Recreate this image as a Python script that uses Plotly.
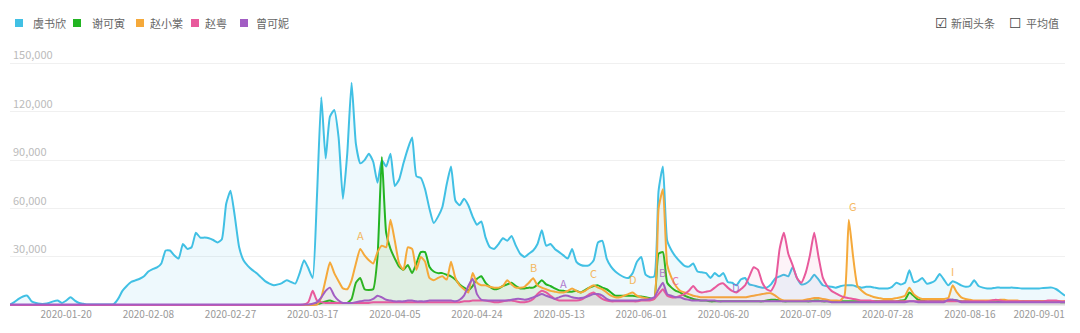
import pandas as pd
import plotly.graph_objects as go

# ---------------- data (values in thousands, one point per day) ----------------
start_date = "2020-01-07"
n_days = 245
dates = pd.date_range(start_date, periods=n_days, freq="D")

series_names = ["虞书欣", "谢可寅", "赵小棠", "赵粤", "曾可妮"]

yu_shuxin = [
    0.5, 2, 4, 5.5, 6, 2.5, 1.5, 1, 1, 1.5,
    2.5, 3, 1.5, 3, 5, 3, 1.5, 1, 0.5, 0.5,
    0.5, 0.5, 0.5, 0.5, 0.8, 4, 9, 12, 14.5, 15.5,
    16.5, 18, 21, 22.5, 23.5, 26, 34, 34, 31, 29,
    38, 35, 36, 45, 42, 42, 41.6, 40.5, 39, 41,
    63, 71, 55, 36, 28, 24.5, 22, 20, 17.5, 15,
    13.5, 12.5, 13, 14, 15.5, 14.5, 13.5, 20, 28, 23,
    17, 68, 129, 91, 117, 121, 104, 66, 94, 138,
    100, 88, 90, 94, 89, 76, 90, 86, 94, 74,
    78, 88, 97, 104, 80, 79, 72, 60, 51, 55,
    61, 75, 86, 65, 62, 66, 62, 55, 50, 52,
    42, 36, 35, 38, 41.6, 40, 43, 37, 32, 30,
    32, 34, 38, 46.5, 37, 38, 35, 33, 31, 29,
    35, 27, 25, 24.5, 25, 28, 39, 40, 29, 24,
    21, 19, 17.5, 17, 20, 27, 30, 19, 17.5, 18,
    71, 86, 40, 34, 30, 27, 24.5, 24, 26, 21,
    20.5, 20, 17, 20, 18, 20, 14.5, 14, 12.4, 16,
    17, 13, 12.4, 11.5, 11, 11, 13, 16.8, 18, 19,
    18, 23.6, 17, 13, 13.5, 15.5, 19, 16, 12.5, 11.8,
    11.5, 11, 11.8, 12.4, 12.4, 12.4, 11.5, 11, 11.5, 11.5,
    11, 10.5, 10.5, 10.5, 11.5, 14, 13, 14, 21.7, 14.5,
    15, 17, 13.5, 14, 15.5, 19.5, 16, 12.4, 15, 14,
    12.4, 11.5, 12, 15.5, 12, 11, 10.5, 10.5, 11, 11,
    11, 11, 11, 10.8, 10.5, 10.5, 10.5, 10.5, 10.5, 10.8,
    11, 11, 10, 8, 6,
]

xie_keyin = [
    0.3, 0.3, 0.3, 0.3, 0.3, 0.3, 0.3, 0.3, 0.3, 0.3,
    0.3, 0.3, 0.3, 0.3, 0.3, 0.3, 0.3, 0.3, 0.3, 0.3,
    0.3, 0.3, 0.3, 0.3, 0.3, 0.3, 0.3, 0.3, 0.3, 0.3,
    0.3, 0.3, 0.3, 0.3, 0.3, 0.3, 0.3, 0.3, 0.3, 0.3,
    0.3, 0.3, 0.3, 0.3, 0.3, 0.3, 0.3, 0.3, 0.3, 0.3,
    0.3, 0.3, 0.3, 0.3, 0.3, 0.3, 0.3, 0.3, 0.3, 0.3,
    0.3, 0.3, 0.3, 0.3, 0.3, 0.3, 0.3, 0.3, 0.3, 0.3,
    0.5, 0.8, 1.5, 2.5, 3, 2, 1.5, 1.5, 1.5, 4,
    14, 17, 10, 9.5, 10, 30, 92, 45, 35, 29,
    24, 22, 25, 20, 26, 33, 33, 24, 21, 20,
    20, 19, 18, 16, 13, 11, 9.5, 12, 16.5, 18,
    14, 11.5, 10, 10.5, 12, 13, 14, 12, 10.5, 10.5,
    11, 11, 13, 15.5, 13, 12, 10.5, 9.3, 9, 8.5,
    8.5, 9, 8, 9.5, 11, 12, 12.4, 11, 10, 8,
    6, 6, 6, 6, 6, 5.5, 5.5, 5, 4.5, 4,
    32, 33, 14, 11, 9, 8, 6, 5, 4, 3.5,
    3, 3, 2.5, 2.5, 2.5, 2.5, 2.5, 2.5, 2.5, 2.5,
    2.5, 2.5, 2.5, 2.5, 2.5, 3, 3.5, 3.5, 3, 2.5,
    2.5, 2.5, 2.5, 2.5, 2.5, 2.5, 3, 3, 2.5, 2.5,
    2.5, 2.5, 2.5, 2.5, 2.5, 2.5, 2.5, 2.5, 2.5, 2.5,
    2.5, 2.5, 2.5, 2.5, 2.5, 2.5, 3, 3.5, 8, 6,
    3.5, 3, 2.5, 2.5, 2.5, 2.5, 2.5, 3, 3.5, 3,
    2.5, 2.5, 2.5, 2.5, 2.5, 2.5, 2.5, 2.5, 2.5, 2.5,
    2.5, 2.5, 2.5, 2.5, 2.5, 2.5, 2.5, 2.5, 2.5, 2.5,
    2.5, 2.5, 2.5, 2, 2,
]

zhao_xiaotang = [
    0.2, 0.2, 0.2, 0.2, 0.2, 0.2, 0.2, 0.2, 0.2, 0.2,
    0.2, 0.2, 0.2, 0.2, 0.2, 0.2, 0.2, 0.2, 0.2, 0.2,
    0.2, 0.2, 0.2, 0.2, 0.2, 0.2, 0.2, 0.2, 0.2, 0.2,
    0.2, 0.2, 0.2, 0.2, 0.2, 0.2, 0.2, 0.2, 0.2, 0.2,
    0.2, 0.2, 0.2, 0.2, 0.2, 0.2, 0.2, 0.2, 0.2, 0.2,
    0.2, 0.2, 0.2, 0.2, 0.2, 0.2, 0.2, 0.2, 0.2, 0.2,
    0.2, 0.2, 0.2, 0.2, 0.2, 0.2, 0.2, 0.2, 0.2, 0.2,
    0.3, 0.5, 5, 16, 26.7, 20, 15, 10.5, 10, 15.5,
    26, 35, 31, 28, 26, 33, 37, 36, 53, 40,
    26, 22, 36, 35, 22, 30, 27, 17, 15.5, 17,
    18, 16, 27, 17, 12.4, 10, 8, 20, 14, 12.5,
    12.4, 11.5, 11, 11, 12, 15.5, 13, 11, 11, 11.5,
    14, 16.8, 12.4, 11, 10, 9, 8.5, 8, 8, 9,
    10.5, 9, 8, 9, 11, 12.4, 11, 10, 8, 6,
    5, 5, 6, 7, 8, 6, 5, 4.5, 4, 4,
    60, 72, 25, 17, 12, 9, 8, 7, 6, 5.5,
    5, 5, 5, 5, 5, 5, 5, 5, 5, 5,
    5, 5.5, 6, 6.5, 7, 7.5, 7.5, 6, 4, 3,
    3, 3, 3, 3, 3.5, 4, 4.5, 4.5, 4, 3.5,
    3, 3, 3, 6, 53, 30, 12, 9, 7, 6,
    5, 4.5, 4, 4, 4, 4.5, 5, 6, 11, 7,
    5, 4, 4, 4, 4, 4, 4, 4.5, 12.4, 8,
    5, 4, 3.5, 3, 3, 3, 3, 3, 3, 3.5,
    3.5, 3, 3, 3, 2.5, 2.5, 2.5, 2.5, 2.5, 2.5,
    2.5, 2.5, 2.5, 2.5, 2.5,
]

zhao_yue = [
    0.3, 0.3, 0.3, 0.3, 0.3, 0.3, 0.3, 0.3, 0.3, 0.3,
    0.3, 0.3, 0.3, 0.3, 0.3, 0.3, 0.3, 0.3, 0.3, 0.3,
    0.3, 0.3, 0.3, 0.3, 0.3, 0.3, 0.3, 0.3, 0.3, 0.3,
    0.3, 0.3, 0.3, 0.3, 0.3, 0.3, 0.3, 0.3, 0.3, 0.3,
    0.3, 0.3, 0.3, 0.3, 0.3, 0.3, 0.3, 0.3, 0.3, 0.3,
    0.3, 0.3, 0.3, 0.3, 0.3, 0.3, 0.3, 0.3, 0.3, 0.3,
    0.3, 0.3, 0.3, 0.3, 0.3, 0.3, 0.3, 0.3, 0.5, 2,
    9, 3, 2, 1.5, 1.5, 1.5, 1.5, 1.5, 1.5, 1.5,
    1.5, 1.5, 1.5, 1.5, 2, 2, 2, 2, 2, 2,
    2, 2, 2, 2, 2, 2, 2, 2, 2, 2,
    2, 2, 2, 2, 2, 2.5, 2.5, 3, 3, 3,
    3, 2.5, 2, 2, 2.5, 3, 3, 2.5, 2, 2,
    2.5, 4, 7, 9, 8, 6, 4, 3, 3, 3,
    3, 3, 3.5, 5, 7, 8, 6, 4, 3, 2.5,
    2.5, 2.5, 2.5, 2.5, 2.5, 2.5, 3, 3, 3, 4,
    7, 10, 6, 5, 5, 6, 7, 9, 12, 9,
    8, 8.5, 9, 11, 13, 13.6, 11, 9, 8, 10,
    12.4, 18, 23.6, 22, 14, 10, 9, 14, 35, 45,
    32, 25, 17, 14, 20, 31, 45, 30, 17, 12,
    9, 7.5, 6, 5, 4.5, 4, 3.5, 3, 3, 3,
    2.5, 2.5, 2.5, 2.5, 2.5, 2.5, 2.5, 2.5, 2.5, 2.5,
    2.5, 2.5, 2.5, 2.5, 2.5, 2.5, 2.5, 2.5, 2.5, 2.5,
    2.5, 2.5, 2.5, 2.5, 2.5, 2.5, 2.5, 3, 3.5, 3,
    2.5, 2.5, 2.5, 2.5, 2.5, 2.5, 2.5, 2.5, 2.5, 2.5,
    3, 3, 3, 2.5, 2.5,
]

zeng_keni = [
    0.5, 0.5, 0.5, 0.5, 0.5, 0.5, 0.5, 0.5, 0.5, 0.5,
    0.5, 0.5, 0.5, 0.5, 0.5, 0.5, 0.5, 0.5, 0.5, 0.5,
    0.5, 0.5, 0.5, 0.5, 0.5, 0.5, 0.5, 0.5, 0.5, 0.5,
    0.5, 0.5, 0.5, 0.5, 0.5, 0.5, 0.5, 0.5, 0.5, 0.5,
    0.5, 0.5, 0.5, 0.5, 0.5, 0.5, 0.5, 0.5, 0.5, 0.5,
    0.5, 0.5, 0.5, 0.5, 0.5, 0.5, 0.5, 0.5, 0.5, 0.5,
    0.5, 0.5, 0.5, 0.5, 0.5, 0.5, 0.5, 0.5, 0.5, 0.5,
    1, 2, 5, 9, 11, 6, 3, 1.5, 1.5, 1.5,
    2, 2.5, 3, 3, 4, 6, 5, 3.5, 3, 2.5,
    2.5, 2.5, 3, 3, 2.5, 2.5, 2.5, 3, 3, 3,
    3, 3, 3, 2.5, 3.5, 6, 12, 16.5, 7, 3.5,
    3, 3, 3, 3, 3, 3, 3.5, 4, 4, 3.5,
    4, 5, 6, 7, 6, 5, 4, 5, 6, 6,
    5, 4.5, 4.5, 5, 6, 7, 7, 6, 4, 3,
    3, 3, 3, 3, 3, 3, 3.5, 3.5, 4, 5,
    10, 14, 7, 6, 5, 5, 4, 3.5, 3, 3,
    3, 3, 3, 3, 2.5, 2.5, 2.5, 2.5, 2.5, 2.5,
    2.5, 2.5, 2.5, 2.5, 2.5, 2.5, 2.5, 2.5, 2.5, 2.5,
    2.5, 2.5, 2.5, 2.5, 2.5, 2.5, 2.5, 2.5, 2.5, 2.5,
    2, 2, 2, 2, 2, 2, 2, 2, 2, 2,
    2, 2, 2, 2, 2, 2, 2, 2, 2.5, 2.5,
    2, 2, 2, 2, 2, 2, 2, 3.5, 3.5, 3,
    2, 2, 2, 2, 2, 2, 2, 2, 2, 2,
    2, 2, 2, 2, 2, 2, 2, 2, 2, 2,
    2, 2, 2, 2, 2,
]

x_tick_labels = ["2020-01-20", "2020-02-08", "2020-02-27", "2020-03-17", "2020-04-05",
                 "2020-04-24", "2020-05-13", "2020-06-01", "2020-06-20", "2020-07-09",
                 "2020-07-28", "2020-08-16", "2020-09-01"]
y_tick_values = [30000, 60000, 90000, 120000, 150000]

# news headline markers: (letter, date, value, series index)
marker_letters = ["A", "B", "A", "C", "D", "B", "C", "D", "G", "I"]
marker_dates = ["2020-03-28", "2020-05-07", "2020-05-14", "2020-05-21", "2020-05-30",
                "2020-06-06", "2020-06-09", "2020-06-23", "2020-07-20", "2020-08-12"]
marker_values = [43500, 23600, 13700, 19900, 16100, 20500, 15500, 11200, 61500, 21000]
marker_series = [2, 2, 4, 2, 2, 4, 3, 4, 2, 2]

# ---------------- styling ----------------
W, H = 1080, 333
M_L, M_R, M_T, M_B = 10, 15, 31, 26
Y_MIN, Y_MAX = -1000, 170000
colors = ["#41C0E4", "#22B422", "#F5A93A", "#E85A9C", "#A25DC3"]
fills = ["rgba(65,192,228,0.09)", "rgba(34,180,34,0.07)", "rgba(245,169,58,0.06)",
         "rgba(232,90,156,0.07)", "rgba(162,93,195,0.06)"]
all_series = [yu_shuxin, xie_keyin, zhao_xiaotang, zhao_yue, zeng_keni]
for s in all_series:
    assert len(s) == n_days, len(s)

FONT = "Noto Sans CJK SC, Noto Sans, sans-serif"
PLOT_W = W - M_L - M_R
PLOT_H = H - M_T - M_B


def paper_x(px):
    return (px - M_L) / PLOT_W


def paper_y(py):
    return (H - M_B - py) / PLOT_H


fig = go.Figure()
for name, vals, c, fc in zip(series_names, all_series, colors, fills):
    fig.add_trace(go.Scatter(
        x=dates, y=[v * 1000 for v in vals], name=name, mode="lines",
        line=dict(color=c, width=2, shape="spline", smoothing=0.5),
        fill="tozeroy", fillcolor=fc, showlegend=False, hoverinfo="skip",
    ))

annotations = []
shapes = []
for letter, d, v, si in zip(marker_letters, marker_dates, marker_values, marker_series):
    annotations.append(dict(x=d, y=v, xref="x", yref="y", text=letter, showarrow=False,
                            font=dict(family=FONT, size=11, color=colors[si]), opacity=0.8))

# legend (top-left): square swatch + name
legend_square_x = [19, 77, 140, 195, 244]
legend_text_x = [31, 90, 148, 203, 254]
LEG_Y = 23
for name, c, sx, tx in zip(series_names, colors, legend_square_x, legend_text_x):
    shapes.append(dict(type="rect", xref="paper", yref="paper",
                       x0=paper_x(sx - 4), x1=paper_x(sx + 4),
                       y0=paper_y(LEG_Y + 4), y1=paper_y(LEG_Y - 4),
                       fillcolor=c, line=dict(width=0)))
    annotations.append(dict(xref="paper", yref="paper", x=paper_x(tx), y=paper_y(LEG_Y),
                            xanchor="left", yanchor="middle", text=name, showarrow=False,
                            font=dict(family=FONT, size=11, color="#666")))

# checkbox controls at top-right
for txt, xp, sz, col, fam in [("☑", 933, 14, "#444", "DejaVu Sans"),
                              ("新闻头条", 949, 11, "#666", FONT),
                              ("☐", 1007, 14, "#444", "DejaVu Sans"),
                              ("平均值", 1024, 11, "#666", FONT)]:
    annotations.append(dict(xref="paper", yref="paper", x=paper_x(xp), y=paper_y(LEG_Y),
                            xanchor="left", yanchor="middle", text=txt, showarrow=False,
                            font=dict(family=fam, size=sz, color=col)))

fig.update_layout(
    width=W, height=H,
    margin=dict(l=M_L, r=M_R, t=M_T, b=M_B),
    paper_bgcolor="white", plot_bgcolor="white",
    font=dict(family=FONT, size=11, color="#999"),
    showlegend=False,
    xaxis=dict(
        range=[dates[0], dates[-1]], tickmode="array",
        tickvals=pd.to_datetime(x_tick_labels), ticktext=x_tick_labels,
        showgrid=False, zeroline=False, showline=False, ticks="",
        tickfont=dict(size=10, color="#999"), fixedrange=True,
    ),
    yaxis=dict(
        range=[Y_MIN, Y_MAX], tickmode="array", tickvals=y_tick_values,
        ticktext=[f"{v:,}" for v in y_tick_values],
        ticklabelposition="inside top", showgrid=True, gridcolor="#f0f0f0",
        zeroline=False, showline=False, ticks="",
        tickfont=dict(size=11, color="#bbb"), fixedrange=True,
    ),
    annotations=annotations,
    shapes=shapes,
    hovermode=False,
)

fig.write_html("out.html")
